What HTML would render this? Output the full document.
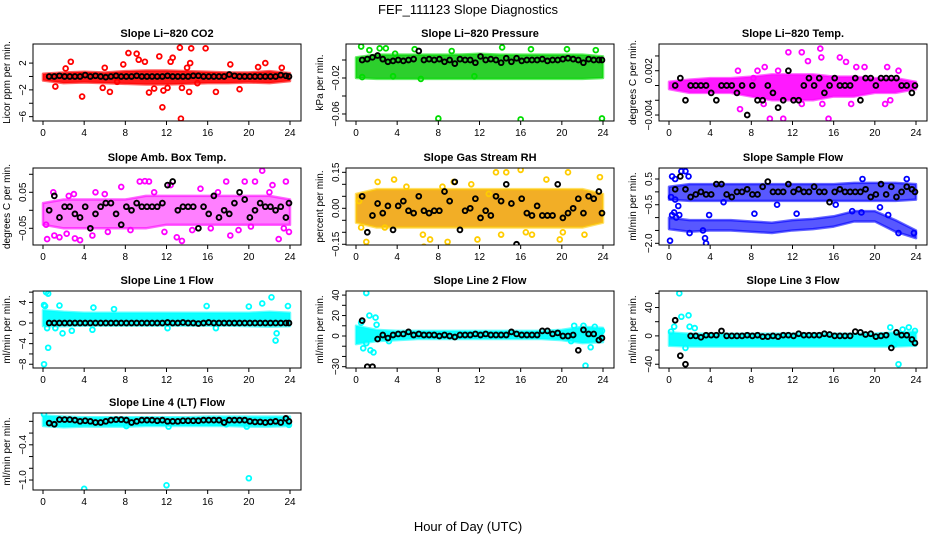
<!DOCTYPE html>
<html><head><meta charset="utf-8"><title>FEF_111123 Slope Diagnostics</title>
<style>
html,body{margin:0;padding:0;background:#fff;}
svg{display:block;font-family:"Liberation Sans",Arial,sans-serif;}
</style></head>
<body>
<svg id="chart" width="936" height="540" viewBox="0 0 936 540" xmlns="http://www.w3.org/2000/svg">
<text x="468" y="14" font-size="13" text-anchor="middle">FEF_111123  Slope Diagnostics</text>
<text x="468" y="531" font-size="13" text-anchor="middle">Hour of Day (UTC)</text>
</svg>
<script>
// ---- shared data ----
const blackHours = [0.6,1.1,1.6,2.1,2.6,3.1,3.6,4.1,4.6,5.1,5.6,6.1,6.6,7.1,7.6,8.1,8.6,9.1,9.6,10.1,10.6,11.1,11.6,12.1,12.6,13.1,13.6,14.1,14.6,15.1,15.6,16.1,16.6,17.1,17.6,18.1,18.6,19.1,19.6,20.1,20.6,21.1,21.6,22.1,22.6,23.1,23.6,23.9];
const bandHours = [0,2,4,6,8,10,12,14,16,18,20,22,24];
const xTicks = [0,4,8,12,16,20,24];

// CO2
const co2Black = [0,0,0.1,0,0,0,0,0.2,0,0.1,0,-0.1,0,0.1,0,0,0,0.1,0,0,0,0,0,0.1,0,0,0,0,0.1,0.1,0,0,0,0,0,0.3,0.1,0,0,0,0,0,0,0,0,0.2,0.1,0];
const co2Low = [-0.6,-1.0,-0.9,-1.0,-1.1,-1.2,-1.2,-1.1,-1.0,-1.0,-0.9,-1.0,-0.7];
const co2High = [0.4,0.6,0.7,0.6,0.8,0.9,0.9,0.8,0.7,0.6,0.6,0.8,0.5];
const co2Out = [[2.2,1.2],[2.7,2.2],[3.8,-3.0],[5.8,-1.7],[6.5,-2.3],[7.2,-0.8],[7.8,1.8],[8.3,3.5],[9.1,3.4],[9.3,2.5],[9.9,2.2],[10.3,-2.4],[10.8,-1.8],[11.3,3],[11.6,-4.6],[11.7,-2.1],[12.1,-1.7],[12.4,2.2],[12.6,2.8],[13.4,-6.3],[13.3,4.3],[13.5,-1.7],[14,1.3],[14.2,-2.3],[14.3,2.0],[14.4,4.2],[15,-1],[15.8,4.2],[16.8,-2.3],[18.2,1.8],[19.1,-1.9],[20.9,1.4],[21.6,2.0],[23.2,1.3],[6,1.3],[1.2,-1.5]];
const co2Ticks = [-6,-4,-2,0,2];
const co2Labels = [-6,-2,2];

// Pressure
const presBlack = [0,0.001,0.003,0.005,0.001,-0.002,-0.001,0,-0.001,0,0.001,0.01,0,0.001,0,0.001,-0.002,0,-0.004,0.001,0,0,-0.003,0.004,0,0.001,0,-0.003,0.002,-0.002,0.002,-0.001,0,0,0,0.001,-0.001,0,0,0.001,0.002,0.001,0,-0.003,0.001,0,0,0];
const presLow = [-0.02,-0.021,-0.021,-0.021,-0.021,-0.021,-0.021,-0.021,-0.021,-0.021,-0.021,-0.021,-0.02];
const presHigh = [0.003,0.006,0.006,0.006,0.006,0.006,0.007,0.006,0.006,0.006,0.006,0.006,0.004];
const presOut = [[0.5,0.015],[1.3,0.011],[2.3,0.013],[2.9,0.013],[3.8,0.007],[6.3,-0.021],[0.6,-0.019],[5.7,0.012],[8.0,-0.065],[16.0,-0.066],[23.9,-0.065],[9.3,0.01],[14.2,0.014],[17.0,0.012],[20.5,0.012],[23.3,0.011],[11.5,-0.018],[3.6,-0.018]];
const presTicks = [-0.06,-0.04,-0.02,0];
const presLabels = [-0.06,-0.02];

// Li-820 Temp
const tempBlack = [0,0.001,-0.002,0,0,0,0,-0.001,-0.002,0,0,0,-0.001,0,-0.004,0,-0.002,-0.002,0,-0.001,-0.003,-0.002,0.002,-0.002,-0.002,0,0.001,0,0.001,-0.001,0,0.001,0,0,0,0.001,-0.002,0.001,0.001,0,0.001,0.001,0.001,0.001,0,0,-0.001,0];
const tempLow = [-0.0005,-0.001,-0.001,-0.001,-0.0015,-0.002,-0.002,-0.002,-0.0015,-0.0015,-0.001,-0.001,-0.0005];
const tempHigh = [0.0005,0.0008,0.001,0.001,0.0012,0.0015,0.0015,0.0015,0.0012,0.0012,0.001,0.001,0.0005];
const tempOut = [[11.6,0.0045],[12.9,0.0045],[14.7,0.005],[16.6,0.0038],[17.2,0.0032],[14.8,0.0038],[13.5,0.0033],[9.3,0.0025],[21.2,0.0025],[9.8,-0.0045],[11.1,-0.0045],[15.5,-0.0045],[6.9,-0.0032],[21,-0.0025],[21.5,-0.002],[9.2,-0.0025],[12.9,-0.0025],[14.9,-0.0025],[17.7,-0.0025],[10.6,0.002],[8.6,0.002],[6.7,0.002],[22.3,0.002],[19,0.0025],[18.2,0.0025],[8.2,0.001]];
const tempTicks = [-0.004,-0.002,0,0.002,0.004];
const tempLabels = [-0.004,0.002];

// Amb box temp
const ambBlack = [0,0.04,-0.02,0.01,0.01,-0.01,-0.02,0.01,-0.05,-0.01,0.01,0.02,0.02,-0.01,-0.04,0.01,0,0.02,0.01,0.01,0.01,0.01,0.02,0.07,0.08,0,0.01,0.01,0.01,-0.05,0.01,-0.01,0.04,-0.02,0,-0.01,0.02,0.05,0.03,-0.02,0,0.02,0.01,0.01,0,0.01,-0.02,0.02];
const ambLow = [-0.04,-0.05,-0.05,-0.05,-0.05,-0.05,-0.04,-0.04,-0.04,-0.04,-0.04,-0.04,-0.04];
const ambHigh = [0.02,0.03,0.03,0.03,0.03,0.04,0.04,0.04,0.04,0.04,0.04,0.04,0.03];
const ambOut = [[0.4,-0.08],[1.6,-0.075],[3.1,-0.078],[3.6,-0.083],[9.4,0.08],[9.9,0.081],[10.3,0.08],[12.4,0.07],[17.8,0.08],[19.6,0.08],[20.6,0.08],[21.3,0.11],[22.3,0.07],[23.6,0.08],[22.9,-0.08],[13.5,-0.085],[13.0,-0.075],[18.2,-0.07],[23.9,-0.06],[1.0,0.05],[5.1,0.05],[7.6,0.065],[2.5,0.04],[15.3,0.06],[1.1,-0.07],[2.3,-0.065],[4.8,-0.07],[6.3,-0.06],[11.8,-0.06],[16.3,-0.05],[20.2,-0.045],[0.3,-0.04],[3.0,0.045],[6.0,0.045],[8.5,-0.055],[10.8,0.05],[14.5,-0.055],[17.0,0.05],[19.0,-0.055],[22.0,0.05],[23.4,-0.05]];
const ambTicks = [-0.05,0,0.05,0.1];
const ambLabels = [-0.05,0.05];

// Gas stream RH
const rhBlack = [0.05,-0.1,-0.03,0.02,-0.02,0.01,-0.09,0.01,0.03,-0.01,-0.02,0.05,-0.01,-0.02,-0.01,-0.01,0.07,0.03,0.11,-0.09,-0.01,0,0.04,-0.04,-0.01,-0.03,0.05,0.03,0.1,0.02,-0.15,0.04,-0.02,-0.03,0.01,-0.03,-0.03,-0.03,0.1,-0.04,-0.02,0,0.04,-0.02,0.05,0.04,0.07,-0.02];
const rhLow = [-0.06,-0.08,-0.08,-0.08,-0.08,-0.08,-0.08,-0.08,-0.08,-0.08,-0.08,-0.08,-0.06];
const rhHigh = [0.06,0.08,0.08,0.08,0.08,0.08,0.08,0.08,0.08,0.08,0.08,0.08,0.06];
const rhOut = [[0.3,0.03],[0.5,-0.08],[1.0,-0.14],[2.1,0.11],[3.7,0.12],[4.9,0.09],[6.5,-0.11],[6.6,-0.16],[7.2,-0.13],[8.9,-0.14],[9.5,0.11],[13.6,0.15],[14.6,0.15],[16,0.16],[16.5,-0.1],[17.1,-0.11],[18.5,0.12],[19.8,-0.13],[20.1,-0.1],[20.6,0.15],[22.2,-0.11],[23.7,0.13],[11.2,0.1],[11.8,-0.13],[14.1,-0.11],[2.8,-0.08],[12.9,0.06],[8.4,0.09]];
const rhTicks = [-0.15,-0.1,-0.05,0,0.05,0.1,0.15];
const rhLabels = [-0.15,0,0.15];

// Sample flow
const sampBlack = [0.1,0.6,0.1,-0.2,-0.1,0,-0.1,-0.1,0.3,0.3,-0.1,-0.2,0,0,0.1,-0.1,-0.1,0.2,0.4,0,0,0,0.3,0,0.1,0,0,0.2,0,0,-0.4,0,0.1,0,0,0,0,0.1,-0.2,-0.1,0.3,-0.1,0.2,-0.2,0,0.2,0.1,0];
const sampLow = [-0.3,-0.35,-0.35,-0.35,-0.35,-0.35,-0.35,-0.35,-0.35,-0.35,-0.35,-0.35,-0.3];
const sampHigh = [0.2,0.3,0.3,0.3,0.3,0.3,0.3,0.3,0.3,0.35,0.35,0.35,0.3];
const sampLow2 = [-1.45,-1.55,-1.5,-1.5,-1.55,-1.6,-1.5,-1.45,-1.35,-1.15,-1.15,-1.55,-1.8];
const sampHigh2 = [-1.0,-1.1,-1.1,-1.1,-1.15,-1.2,-1.1,-1.05,-0.95,-0.75,-0.75,-1.1,-1.5];
const sampOut = [[0.1,-1.9],[0.2,-0.2],[0.3,0.6],[0.5,-0.8],[0.6,0.5],[1.2,0.8],[1.6,0.8],[1.9,0.6],[0.3,-0.9],[0.7,-1.0],[1.0,-0.9],[2.0,-1.6],[3.3,-1.5],[3.5,-1.8],[3.6,-2.0],[3.9,-0.9],[8.3,-0.85],[12.4,-0.85],[17.8,-0.75],[18.7,-0.8],[21.3,-0.9],[22.3,-1.6],[23.8,-1.6],[0.6,-0.3],[5.3,-0.4],[10.5,-0.5],[16.2,-0.5],[20.5,-0.6],[23.1,0.5],[18.8,0.5],[0.9,-0.55]];
const sampTicks = [-2,-1.5,-1,-0.5,0,0.5];
const sampLabels = [-2,-0.5,0.5];

// Line 1
const l1Black = [0,0,0,0,0,0,0,0,0,0,0,0,0,0,0,0,0,0,0,0,0,0,0,0.1,0,0,0.1,0,0,-0.1,0,0.1,0,0,0,0,0,0,0,0,0,0,0,0,0,0,0,0];
const l1Low = [-0.6,-0.6,-0.5,-0.5,-0.5,-0.5,-0.5,-0.5,-0.5,-0.5,-0.6,-0.7,-0.6];
const l1High = [2.5,2.2,2,2,2,2,2,2,2,2,2,2.2,2];
const l1Out = [[0.1,-8],[0.3,6],[0.5,5.7],[0.1,3.5],[0.5,-4.8],[0.2,3.3],[1.6,3.4],[1.9,-2],[2.8,-1.5],[4.8,-1.3],[4.9,3],[6.9,2.7],[15.9,3.3],[20,3.2],[21.3,3.8],[22.2,5],[22.6,-3.4],[22.7,-2],[23.8,3.3],[12.1,-1],[16.8,-1],[1.2,-1],[0.4,-1]];
const l1Ticks = [-8,-6,-4,-2,0,2,4,6];
const l1Labels = [-8,-4,0,4];

// Line 2
const l2Black = [15,-30,-30,-3,1,-2,1,2,2,4,1,2,1,1,1,0,1,0,-1,1,1,1,2,1,2,1,1,1,1,4,2,1,1,1,1,5,5,2,3,0,0,1,-14,6,2,2,-4,-2];
const l2Low = [-8,-5,-4,-3,-3,-3,-3,-3,-3,-3,-4,-7,-6];
const l2High = [10,6,5,5,5,5,5,5,5,5,6,9,8];
const l2Out = [[1.0,42],[1.3,20],[1.9,18],[2.0,11],[1.4,-14],[1.7,-16],[0.7,-12],[0.5,13],[1.0,-7],[22.3,-29],[21.2,10],[22.1,10],[22.8,-11],[23.2,9],[23.9,5],[20.9,-5],[3.2,-5]];
const l2Ticks = [-30,-20,-10,0,10,20,30,40];
const l2Labels = [-30,0,20,40];

// Line 3
const l3Black = [22,-28,-40,0,0,-2,1,1,1,7,0,0,0,0,1,0,1,-1,-1,0,-1,1,1,0,3,1,1,1,1,3,2,0,0,0,0,6,5,2,3,-1,0,1,-17,5,1,1,-5,-10];
const l3Low = [-14,-15,-15,-15,-15,-15,-15,-15,-15,-15,-15,-15,-14];
const l3High = [5,3,3,3,3,3,3,3,3,3,3,5,6];
const l3Out = [[1.0,60],[1.2,27],[1.9,29],[2.0,13],[0.5,13],[22.3,-40],[21.5,12],[23.3,12],[23.9,7],[0.2,6],[1.6,-17],[21.9,-12],[22.7,9],[2.5,11]];
const l3Ticks = [-40,-20,0,20,40,60];
const l3Labels = [-40,0,40];

// Line 4
const l4Black = [-0.03,-0.05,0.03,0.03,0.03,0.02,0,0.01,0,-0.02,-0.02,0,0.02,0.03,0.03,0.02,-0.02,0,0.02,0.02,0.02,0.01,0.02,0,0,0,0.01,0.01,0.01,0.01,0.02,0.02,0.02,0.02,-0.02,0.02,0.02,0.02,0.02,0,-0.01,-0.01,-0.02,-0.01,0,-0.02,0.05,0];
const l4Low = [-0.08,-0.1,-0.09,-0.09,-0.09,-0.08,-0.08,-0.08,-0.08,-0.08,-0.09,-0.09,-0.08];
const l4High = [0.1,0.08,0.07,0.07,0.07,0.07,0.07,0.07,0.08,0.08,0.08,0.08,0.08];
const l4Out = [[4.0,-1.15],[12,-1.09],[20,-0.97],[0.1,0.12],[19.8,-0.09],[8.1,-0.08],[12.2,-0.09],[23.9,-0.06],[17.8,-0.05]];
const l4Ticks = [-1,-0.8,-0.6,-0.4,-0.2,0];
const l4Labels = [-1,-0.4];

const NS = "http://www.w3.org/2000/svg";
const svg = document.getElementById("chart");
function mk(tag, attrs, parent){const e=document.createElementNS(NS,tag);for(const k in attrs)e.setAttribute(k,attrs[k]);(parent||svg).appendChild(e);return e;}
function fmt(v){
  if (Math.abs(v) < 1e-12) return "0";
  let s = String(+v.toPrecision(6));
  return s.replace("-", "\u2212");
}
function fmtRH(v){ const s=(Math.abs(v)<1e-12?"0.00":v.toFixed(2)); return s.replace("-", "\u2212"); }

const colX = [33,346,659], rowY = [44,168,291,413];
const W = 268, H = 77;

function panel(slug, title, ylab, col, row, ymin, ymax, ticks, labels, color, bands, outliers, blacks, fmtFn){
  const L = colX[col], T = rowY[row];
  const g = mk("g", {});
  
  
  const xs = t => L + 10 + t * (247/24);
  const ys = v => T + H - (v - ymin) / (ymax - ymin) * H;
  const f = fmtFn || fmt;
  const tt = mk("text", {x: L + W/2, y: T - 7, "font-size": 11, "font-weight": "bold", "text-anchor": "middle"}, g);
  tt.textContent = title;
  
  
  const yl = mk("text", {transform: `translate(${L-23},${T+H/2}) rotate(-90)`, "font-size": 10, "text-anchor": "middle"}, g);
  yl.textContent = ylab;
  
  
  const cid = "clip-" + slug;
  const cp = mk("clipPath", {id: cid}, g);
  mk("rect", {x: L, y: T, width: W, height: H}, cp);
  const plot = mk("g", {"clip-path": `url(#${cid})`}, g);
  bands.forEach((b, bi) => {
    let pts = [];
    bandHours.forEach((h, i) => pts.push(xs(h) + "," + ys(b[1][i])));
    for (let i = bandHours.length - 1; i >= 0; i--) pts.push(xs(bandHours[i]) + "," + ys(b[0][i]));
    const p = mk("polygon", {points: pts.join(" "), fill: color.fill, "fill-opacity": color.op, stroke: color.stroke, "stroke-width": 2.5, "stroke-opacity": 0.6, "stroke-linejoin": "round"}, plot);
    
    
  });
  outliers.forEach(o => {
    const c = mk("circle", {cx: xs(o[0]), cy: ys(o[1]), r: 2.4, fill: "none", stroke: color.stroke, "stroke-width": 1.8}, plot);
    
    
  });
  blacks.forEach((v, i) => {
    const c = mk("circle", {cx: xs(blackHours[i]), cy: ys(v), r: 2.4, fill: "none", stroke: "#000", "stroke-width": 1.9}, plot);
    
    
  });
  const bx = mk("rect", {x: L, y: T, width: W, height: H, fill: "none", stroke: "#000", "stroke-width": 1}, g);
  
  
  const xa = mk("g", {}, g);
  
  
  mk("line", {x1: xs(0), x2: xs(24), y1: T+H, y2: T+H, stroke: "#000"}, xa);
  xTicks.forEach(t => {
    mk("line", {x1: xs(t), x2: xs(t), y1: T+H, y2: T+H+4, stroke: "#000"}, xa);
    const tx = mk("text", {x: xs(t), y: T+H+15, "font-size": 10, "text-anchor": "middle"}, xa);
    tx.textContent = t;
  });
  const ya = mk("g", {}, g);
  
  
  mk("line", {x1: L, x2: L, y1: ys(ticks[0]), y2: ys(ticks[ticks.length-1]), stroke: "#000"}, ya);
  ticks.forEach(v => {
    mk("line", {x1: L-4, x2: L, y1: ys(v), y2: ys(v), stroke: "#000"}, ya);
  });
  labels.forEach(v => {
    const tx = mk("text", {transform: `translate(${L-7},${ys(v)}) rotate(-90)`, "font-size": 10, "text-anchor": "middle"}, ya);
    tx.textContent = f(v);
  });
}

const red = {fill:"#ff1010", stroke:"#ff0000", op:0.95};
const green = {fill:"#22cc22", stroke:"#00dd00", op:0.95};
const mag = {fill:"#ff00ff", stroke:"#ff00ff", op:0.9};
const mag2 = {fill:"#ff00ff", stroke:"#ff00ff", op:0.5};
const orange = {fill:"#f0a000", stroke:"#ffcc00", op:0.85};
const blue = {fill:"#2020ff", stroke:"#0000ff", op:0.75};
const cyan = {fill:"#00ffff", stroke:"#00ffff", op:0.95};

panel("co2","Slope Li\u2212820 CO2","Licor ppm per min.",0,0,-6.65,4.85,co2Ticks,co2Labels,red,[[co2Low,co2High]],co2Out,co2Black);
panel("pressure","Slope Li\u2212820 Pressure","kPa per min.",1,0,-0.0678,0.0178,presTicks,presLabels,green,[[presLow,presHigh]],presOut,presBlack);
panel("li820-temp","Slope Li\u2212820 Temp.","degrees C per min.",2,0,-0.00481,0.00562,tempTicks,tempLabels,mag,[[tempLow,tempHigh]],tempOut,tempBlack);
panel("amb-box-temp","Slope Amb. Box Temp.","degrees C per min.",0,1,-0.0964,0.1175,ambTicks,ambLabels,mag2,[[ambLow,ambHigh]],ambOut,ambBlack);
panel("gas-stream-rh","Slope Gas Stream RH","percent per min.",1,1,-0.153,0.168,rhTicks,rhLabels,orange,[[rhLow,rhHigh]],rhOut,rhBlack,fmtRH);
panel("sample-flow","Slope Sample Flow","ml/min per min.",2,1,-2.066,0.928,sampTicks,sampLabels,blue,[[sampLow,sampHigh],[sampLow2,sampHigh2]],sampOut,sampBlack,v=>v.toFixed(1).replace("-","\u2212"));
panel("line1-flow","Slope Line 1 Flow","ml/min per min.",0,2,-8.73,6.22,l1Ticks,l1Labels,cyan,[[l1Low,l1High]],l1Out,l1Black);
panel("line2-flow","Slope Line 2 Flow","ml/min per min.",1,2,-31.3,44,l2Ticks,l2Labels,cyan,[[l2Low,l2High]],l2Out,l2Black);
panel("line3-flow","Slope Line 3 Flow","ml/min per min.",2,2,-45.3,63.3,l3Ticks,l3Labels,cyan,[[l3Low,l3High]],l3Out,l3Black);
panel("line4-flow","Slope Line 4 (LT) Flow","ml/min per min.",0,3,-1.17,0.142,l4Ticks,l4Labels,cyan,[[l4Low,l4High]],l4Out,l4Black,v=>v.toFixed(1).replace("-","\u2212"));
</script>
</body></html>
